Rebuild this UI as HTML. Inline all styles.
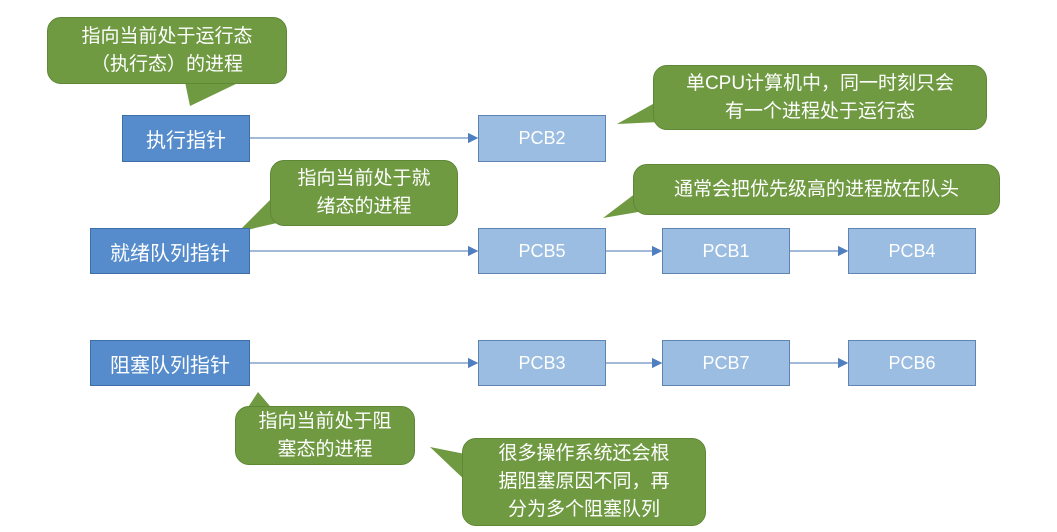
<!DOCTYPE html>
<html><head><meta charset="utf-8"><style>
body{margin:0;width:1057px;height:532px;background:#fff;position:relative;overflow:hidden;font-family:"Liberation Sans","Noto Sans CJK SC",sans-serif}
.b{position:absolute;display:flex;align-items:center;justify-content:center;color:#fff;box-sizing:border-box}
.d{background:#568ccb;border:1px solid #3f6fa8;font-size:20px}
.p{background:#9bbde1;border:1px solid #5d84b3;font-size:18px}
.g{background:#6f9a42;border:1px solid #5e8836;border-radius:14px;font-size:19px;line-height:28px;text-align:center}
svg{position:absolute;left:0;top:0}
</style></head><body>
<svg width="1057" height="532">
<defs><marker id="a" markerWidth="8" markerHeight="8" refX="7" refY="4" orient="auto"><path d="M0,0L8,4L0,8z" fill="#4f7fbf"/></marker></defs>
<g stroke="#6a90c0" stroke-width="1.3" marker-end="url(#a)">
<line x1="250" y1="138" x2="477" y2="138"/>
<line x1="250" y1="251" x2="477" y2="251"/>
<line x1="606" y1="251" x2="661" y2="251"/>
<line x1="790" y1="251" x2="847" y2="251"/>
<line x1="250" y1="363" x2="477" y2="363"/>
<line x1="606" y1="363" x2="661" y2="363"/>
<line x1="790" y1="363" x2="847" y2="363"/>
</g>
<g fill="#6f9a42">
<polygon points="185,82 240,82 190,106"/>
<polygon points="660,100 660,122 617,124"/>
<polygon points="275,195 290,220 238,232"/>
<polygon points="640,190 650,210 603,218"/>
<polygon points="245,412 275,412 258,392"/>
<polygon points="470,455 470,485 430,447"/>
</g>
</svg>
<div class="b g" style="left:47px;top:17px;width:240px;height:67px">指向当前处于运行态<br>（执行态）的进程</div>
<div class="b d" style="left:122px;top:115px;width:128px;height:47px">执行指针</div>
<div class="b p" style="left:478px;top:115px;width:128px;height:47px">PCB2</div>
<div class="b g" style="left:653px;top:65px;width:334px;height:65px">单CPU计算机中，同一时刻只会<br>有一个进程处于运行态</div>
<div class="b g" style="left:270px;top:160px;width:188px;height:66px">指向当前处于就<br>绪态的进程</div>
<div class="b g" style="left:633px;top:164px;width:367px;height:51px">通常会把优先级高的进程放在队头</div>
<div class="b d" style="left:90px;top:228px;width:160px;height:46px">就绪队列指针</div>
<div class="b p" style="left:478px;top:228px;width:128px;height:46px">PCB5</div>
<div class="b p" style="left:662px;top:228px;width:128px;height:46px">PCB1</div>
<div class="b p" style="left:848px;top:228px;width:128px;height:46px">PCB4</div>
<div class="b d" style="left:90px;top:340px;width:160px;height:46px">阻塞队列指针</div>
<div class="b p" style="left:478px;top:340px;width:128px;height:46px">PCB3</div>
<div class="b p" style="left:662px;top:340px;width:128px;height:46px">PCB7</div>
<div class="b p" style="left:848px;top:340px;width:128px;height:46px">PCB6</div>
<div class="b g" style="left:235px;top:406px;width:180px;height:59px">指向当前处于阻<br>塞态的进程</div>
<div class="b g" style="left:462px;top:438px;width:244px;height:88px">很多操作系统还会根<br>据阻塞原因不同，再<br>分为多个阻塞队列</div>
</body></html>
